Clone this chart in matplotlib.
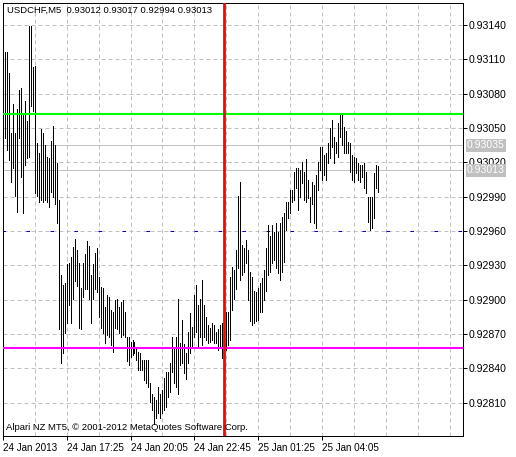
import numpy as np
import matplotlib
matplotlib.use("Agg")
import matplotlib.pyplot as plt
import matplotlib.transforms as mtransforms

plt.rcParams["font.family"] = ["Liberation Sans", "DejaVu Sans"]

# M5 bars, USDCHF, one bar every 5 minutes starting 24 Jan 14:50
highs = [
    0.93116, 0.93116, 0.93098, 0.93046, 0.93071, 0.93046, 0.93067, 0.93083, 0.93085, 0.93063,
    0.93074, 0.93056, 0.93139, 0.93139, 0.93103, 0.93104, 0.93037, 0.93028, 0.93049, 0.93046,
    0.93035, 0.93025, 0.93024, 0.93039, 0.93052, 0.93035, 0.93019, 0.92987, 0.92922, 0.92913,
    0.92915, 0.92931, 0.92932, 0.92937, 0.92946, 0.92953, 0.92943, 0.92932, 0.92910, 0.92932,
    0.92940, 0.92951, 0.92947, 0.92922, 0.92931, 0.92941, 0.92945, 0.92920, 0.92911, 0.92910,
    0.92894, 0.92904, 0.92902, 0.92891, 0.92889, 0.92900, 0.92901, 0.92894, 0.92898, 0.92900,
    0.92889, 0.92867, 0.92867, 0.92863, 0.92865, 0.92863, 0.92859, 0.92854, 0.92853, 0.92847,
    0.92847, 0.92847, 0.92847, 0.92827, 0.92818, 0.92815, 0.92812, 0.92824, 0.92818, 0.92821,
    0.92832, 0.92837, 0.92837, 0.92845, 0.92867, 0.92859, 0.92867, 0.92901, 0.92862, 0.92882,
    0.92861, 0.92853, 0.92872, 0.92888, 0.92876, 0.92904, 0.92913, 0.92895, 0.92901, 0.92917,
    0.92895, 0.92885, 0.92878, 0.92875, 0.92880, 0.92878, 0.92872, 0.92874, 0.92878, 0.92880,
    0.92884, 0.92889, 0.92889, 0.92920, 0.92929, 0.92926, 0.92943, 0.92991, 0.93003, 0.92948,
    0.92945, 0.92952, 0.92943, 0.92924, 0.92920, 0.92908, 0.92907, 0.92910, 0.92915, 0.92919,
    0.92926, 0.92945, 0.92965, 0.92956, 0.92965, 0.92959, 0.92967, 0.92959, 0.92967, 0.92972,
    0.92976, 0.92985, 0.92985, 0.92996, 0.92996, 0.93012, 0.93015, 0.93015, 0.93013, 0.93020,
    0.93012, 0.93023, 0.93005, 0.92990, 0.93003, 0.93000, 0.93009, 0.93020, 0.93033, 0.93033,
    0.93026, 0.93028, 0.93037, 0.93050, 0.93057, 0.93042, 0.93038, 0.93054, 0.93063, 0.93063,
    0.93051, 0.93047, 0.93038, 0.93037, 0.93026, 0.93025, 0.93024, 0.93019, 0.93018, 0.93018,
    0.93019, 0.93012, 0.92990, 0.92990, 0.92990, 0.93011, 0.93018, 0.93017,
]
lows = [
    0.93041, 0.93031, 0.93022, 0.93003, 0.93015, 0.92991, 0.92977, 0.93041, 0.93007, 0.92976,
    0.93018, 0.93024, 0.93025, 0.93069, 0.93065, 0.92993, 0.92991, 0.92985, 0.92987, 0.92985,
    0.92987, 0.92985, 0.92981, 0.92994, 0.92990, 0.92984, 0.92967, 0.92874, 0.92845, 0.92853,
    0.92871, 0.92880, 0.92895, 0.92880, 0.92901, 0.92916, 0.92912, 0.92875, 0.92874, 0.92902,
    0.92909, 0.92909, 0.92901, 0.92880, 0.92901, 0.92909, 0.92907, 0.92885, 0.92875, 0.92871,
    0.92862, 0.92869, 0.92867, 0.92860, 0.92854, 0.92875, 0.92874, 0.92871, 0.92867, 0.92869,
    0.92867, 0.92846, 0.92843, 0.92850, 0.92852, 0.92853, 0.92847, 0.92839, 0.92839, 0.92839,
    0.92830, 0.92827, 0.92824, 0.92811, 0.92804, 0.92791, 0.92797, 0.92801, 0.92797, 0.92801,
    0.92804, 0.92806, 0.92815, 0.92819, 0.92837, 0.92827, 0.92824, 0.92818, 0.92843, 0.92845,
    0.92836, 0.92831, 0.92845, 0.92853, 0.92858, 0.92867, 0.92872, 0.92859, 0.92867, 0.92860,
    0.92867, 0.92865, 0.92862, 0.92863, 0.92865, 0.92862, 0.92862, 0.92856, 0.92859, 0.92849,
    0.92843, 0.92856, 0.92860, 0.92865, 0.92891, 0.92901, 0.92909, 0.92928, 0.92917, 0.92922,
    0.92924, 0.92932, 0.92900, 0.92881, 0.92878, 0.92880, 0.92881, 0.92882, 0.92889, 0.92889,
    0.92900, 0.92908, 0.92922, 0.92924, 0.92932, 0.92935, 0.92928, 0.92923, 0.92917, 0.92924,
    0.92933, 0.92961, 0.92971, 0.92976, 0.92985, 0.92987, 0.92998, 0.92978, 0.92990, 0.93002,
    0.92987, 0.92985, 0.92989, 0.92968, 0.92984, 0.92967, 0.92963, 0.92996, 0.93013, 0.93005,
    0.93009, 0.93005, 0.93019, 0.93024, 0.93033, 0.93019, 0.93028, 0.93025, 0.93042, 0.93035,
    0.93028, 0.93028, 0.93028, 0.93012, 0.93005, 0.93003, 0.93011, 0.93005, 0.93003, 0.93007,
    0.92998, 0.92993, 0.92968, 0.92961, 0.92963, 0.92971, 0.92998, 0.92994,
]

# horizontal levels drawn on the chart
green_level = 0.93062
magenta_level = 0.92858
blue_level = 0.92960
gray_levels = [0.93035, 0.93013]
gray_labels = ["0.93035", "0.93013"]
red_bar = 111  # vertical line at 25 Jan 00:00

ytick_values = [0.92810, 0.92840, 0.92870, 0.92900, 0.92930, 0.92960,
                0.92990, 0.93020, 0.93050, 0.93080, 0.93110, 0.93140]
xtick_bars = [0, 32, 64, 96, 128, 160]
xtick_labels = ["24 Jan 2013", "24 Jan 17:25", "24 Jan 20:05",
                "24 Jan 22:45", "25 Jan 01:25", "25 Jan 04:05"]

W, H = 516, 457
fig = plt.figure(figsize=(W / 100, H / 100), dpi=100)
# plot area in pixels: x 2.7..462.7, y 2.7..436
ax = fig.add_axes([2.7 / W, (H - 436) / H, 460 / W, (436 - 2.7) / H])
ax.set_xlim(0.35, 230.35)
ax.set_ylim(0.927809, 0.931595)

px = 0.72  # one pixel in points

# grid
grid_kw = dict(color="#c0c0c0", linewidth=px, linestyle=(0, (4, 3)), zorder=0)
for k in range(16, 231, 16):
    ax.axvline(k, **grid_kw)
for v in ytick_values:
    ax.axhline(v, **grid_kw)

# price bars (high-low)
idx = np.arange(1, len(highs) + 1)
ax.vlines(idx, lows, highs, colors="black", linewidth=px, antialiased=False, zorder=3)

# level lines
for v in gray_levels:
    ax.axhline(v, color="#c0c0c0", linewidth=px, zorder=1)
ax.axhline(blue_level, color="#0000c8", linewidth=px, linestyle=(1, (3.5, 20.5)), zorder=2)
ax.axhline(green_level, color="#00ff00", linewidth=1.5, zorder=4)
ax.axhline(magenta_level, color="#ff00ff", linewidth=1.5, zorder=4)
ax.axvline(red_bar, color="#ff0000", linewidth=2.0, zorder=5)

# axes style
for s in ax.spines.values():
    s.set_color("black")
    s.set_linewidth(px)
ax.yaxis.tick_right()
ax.set_yticks(ytick_values)
ax.set_yticklabels([f"{v:.5f}" for v in ytick_values])
ax.set_xticks(xtick_bars)
ax.set_xticklabels(xtick_labels)
for lab in ax.get_xticklabels():
    lab.set_horizontalalignment("left")
ax.tick_params(axis="both", direction="out", length=3, width=px,
               colors="black", pad=1.5)
ax.tick_params(axis="y", labelsize=7.6)
ax.tick_params(axis="x", labelsize=7.1, pad=2)

# price labels for the gray lines
trans = mtransforms.blended_transform_factory(ax.transAxes, ax.transData)
for v, t in zip(gray_levels, gray_labels):
    ax.text(1.0095, v, t, transform=trans, ha="left", va="center", fontsize=7.6,
            color="white", clip_on=False, zorder=6,
            bbox=dict(boxstyle="square,pad=0.14", facecolor="#c0c0c0", edgecolor="none"))

# header and footer texts
ax.text(4 / 460, 1 - 8 / 433.3, "USDCHF,M5  0.93012 0.93017 0.92994 0.93013",
        transform=ax.transAxes, ha="left", va="center", fontsize=6.8, zorder=6)
ax.text(3 / 460, 8 / 433.3, "Alpari NZ MT5, \u00a9 2001-2012 MetaQuotes Software Corp.",
        transform=ax.transAxes, ha="left", va="center", fontsize=6.8, zorder=6)

fig.savefig("out.png", dpi=100, facecolor="white")
